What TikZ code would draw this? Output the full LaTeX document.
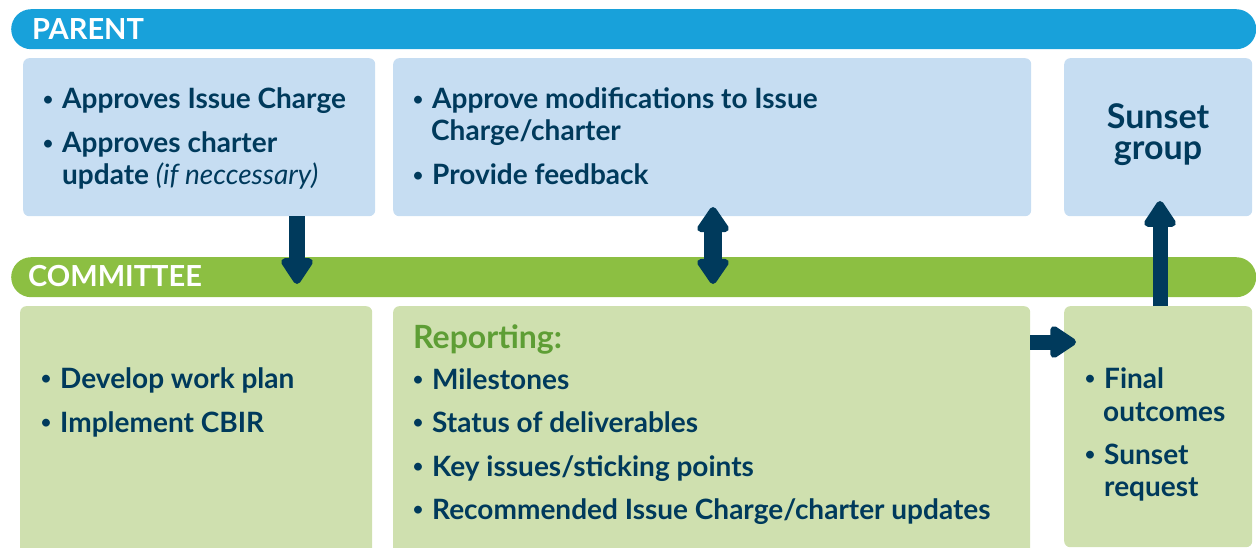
\documentclass[tikz,border=0pt]{standalone}
\usepackage{fontspec}
\setmainfont{Lato}
\usetikzlibrary{arrows.meta}
\definecolor{barblue}{HTML}{18A1DA}
\definecolor{boxblue}{HTML}{C6DDF2}
\definecolor{bargreen}{HTML}{8CBF42}
\definecolor{boxgreen}{HTML}{CFE0AF}
\definecolor{navy}{HTML}{003A5C}
\definecolor{repgreen}{HTML}{5E9E35}
\newcommand\mybul{\llap{\raisebox{3.2pt}{\fontsize{18}{18}\selectfont\textbullet}\hspace{9pt}}}
\tikzset{
  bar/.style={rounded corners=20pt, anchor=north west, inner sep=0pt},
  pbox/.style={fill=boxblue, rounded corners=6pt, anchor=north west, inner sep=0pt},
  cbox/.style={fill=boxgreen, rounded corners=6pt, anchor=north west, inner sep=0pt},
  txt/.style={anchor=base west, inner sep=0pt, text=navy, font=\fontsize{28}{33}\selectfont\bfseries},
  bartxt/.style={anchor=base west, inner sep=0pt, text=white, font=\fontsize{29}{33}\selectfont\bfseries},
  bigarrow/.style={draw=navy, line width=#1, -{Triangle[width=36pt,length=29pt,round]}},
  twoarrow/.style={draw=navy, line width=#1, {Triangle[width=36pt,length=28pt,round]}-{Triangle[width=36pt,length=28pt,round]}}
}
\begin{document}
\begin{tikzpicture}[x=1pt,y=-1pt]
\useasboundingbox (0,0) rectangle (1256,548);
% bars
\node[bar, fill=barblue, minimum width=1245pt, minimum height=40pt] (pbar) at (11,9) {};
\node[bar, fill=bargreen, minimum width=1245pt, minimum height=40pt] (cbar) at (11,257) {};
\node[bartxt] (plab) at (32,40) {PARENT};
\node[bartxt] (clab) at (28,287) {COMMITTEE};
% parent boxes
\node[pbox, minimum width=352pt, minimum height=158pt] (p1) at (23,58) {};
\node[pbox, minimum width=638pt, minimum height=158pt] (p2) at (393,58) {};
\node[pbox, minimum width=188pt, minimum height=158pt] (p3) at (1064,58) {};
% committee boxes
\node[cbox, minimum width=352pt, minimum height=250pt] (c1) at (20,306) {};
\node[cbox, minimum width=637pt, minimum height=250pt] (c2) at (393,306) {};
\node[cbox, minimum width=188pt, minimum height=241pt] (c3) at (1064,306) {};
% parent texts
\node[txt] (t11) at (62,109) {\mybul Approves Issue Charge};
\node[txt] (t12) at (62,153) {\mybul Approves charter};
\node[txt] (t13) at (62,185) {update \mdseries\itshape(if neccessary)};
\node[txt] (t21) at (432,109) {\mybul Approve modifications to Issue};
\node[txt] (t22) at (431,141) {Charge/charter};
\node[txt] (t23) at (432,185) {\mybul Provide feedback};
\node[txt, anchor=base, font=\fontsize{34}{38}\selectfont\bfseries] (t31) at (1158,129) {Sunset};
\node[txt, anchor=base, font=\fontsize{34}{38}\selectfont\bfseries] (t32) at (1158,160) {group};
% committee texts
\node[txt] (u11) at (60,388) {\mybul Develop work plan};
\node[txt] (u12) at (60,432) {\mybul Implement CBIR};
\node[txt, text=repgreen, font=\fontsize{32}{36}\selectfont\bfseries] (u20) at (413,348) {Reporting:};
\node[txt] (u21) at (432,389) {\mybul Milestones};
\node[txt] (u22) at (432,432) {\mybul Status of deliverables};
\node[txt] (u23) at (432,476) {\mybul Key issues/sticking points};
\node[txt] (u24) at (432,519) {\mybul Recommended Issue Charge/charter updates};
\node[txt] (u31) at (1104,388) {\mybul Final};
\node[txt] (u32) at (1103,421) {outcomes};
\node[txt] (u33) at (1104,464) {\mybul Sunset};
\node[txt] (u34) at (1104,496) {request};
% arrows
\coordinate (a1) at (297,284);
\coordinate (a2t) at (713,207);
\coordinate (a2b) at (713,284);
\coordinate (a3) at (1160,201);
\coordinate (a4) at (1076,342);
\draw[bigarrow=16pt] (p1.south -| a1) -- (a1);
\draw[twoarrow=18pt] (a2t) -- (a2b);
\draw[bigarrow=15pt] (c3.north -| a3) -- (a3);
\draw[bigarrow=15pt] (c2.east |- a4) -- (a4);
\end{tikzpicture}
\end{document}
